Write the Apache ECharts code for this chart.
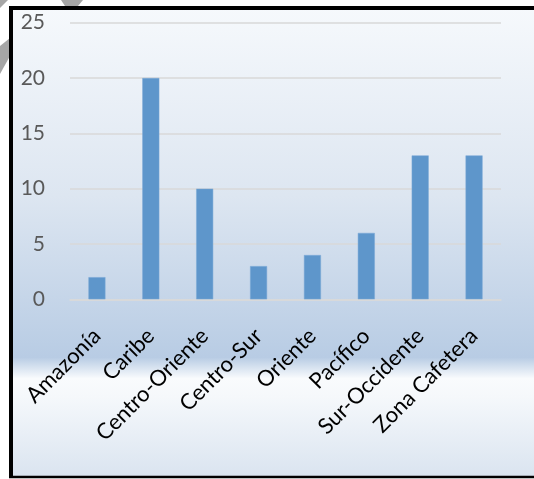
<!DOCTYPE html>
<html>
<head>
<meta charset="utf-8">
<script src="https://cdn.jsdelivr.net/npm/echarts@6/dist/echarts.min.js"></script>
<style>
html,body{margin:0;padding:0;background:#fff;}
#chart{width:534px;height:479px;}
</style>
</head>
<body>
<div id="chart"></div>
<script>
const categories = ['Amazonía','Caribe','Centro-Oriente','Centro-Sur','Oriente','Pacífico','Sur-Occidente','Zona Cafetera'];
const values = [2, 20, 10, 3, 4, 6, 13, 13];
const yTicks = [0, 5, 10, 15, 20, 25];

const chart = echarts.init(document.getElementById('chart'), null, {renderer:'canvas'});
const FONT = 'Lato, "Open Sans", sans-serif';
chart.setOption({
  animation: false,
  backgroundColor: '#ffffff',
  graphic: [
    { type:'polygon', z:-10, shape:{points:[[0,0],[8,0],[0,8]]}, style:{fill:'#a6a6a6'}, silent:true },
    { type:'polygon', z:-10, shape:{points:[[0,46],[10,38],[10,56],[0,74]]}, style:{fill:'#a6a6a6'}, silent:true },
    { type:'polygon', z:-10, shape:{points:[[61,0],[83,0],[78,6],[65,6]]}, style:{fill:'#a6a6a6'}, silent:true },
    { type:'rect', z:-5, shape:{x:11, y:8, width:530, height:469},
      style:{ fill: new echarts.graphic.LinearGradient(0,0,0,1,[
        {offset:0, color:'#f6f9fc'},
        {offset:0.4, color:'#dde6f1'},
        {offset:0.745, color:'#b8cce4'},
        {offset:0.79, color:'#f9fbfd'},
        {offset:0.83, color:'#f5f8fb'},
        {offset:1, color:'#dae4f0'}
      ]) }, silent:true },
    { type:'line', z:100, shape:{x1:11, y1:6, x2:11, y2:478}, style:{stroke:'#000', lineWidth:4}, silent:true },
    { type:'line', z:100, shape:{x1:9, y1:8, x2:534, y2:8}, style:{stroke:'#000', lineWidth:4}, silent:true },
    { type:'line', z:100, shape:{x1:9, y1:477, x2:534, y2:477}, style:{stroke:'#000', lineWidth:2.5}, silent:true }
  ],
  grid: { left:70, right:33, top:22.7, bottom:179.7, outerBoundsMode:'none' },
  xAxis: {
    type:'category', data: categories,
    axisLine:{ show:true, lineStyle:{ color:'#d9d9d9', width:1.5 } },
    axisTick:{ show:false },
    axisLabel:{ interval:0, rotate:45, margin:33, color:'#000', fontSize:22, fontFamily:FONT }
  },
  yAxis: {
    type:'value', min:yTicks[0], max:yTicks[yTicks.length-1], interval:5,
    axisLine:{ show:false }, axisTick:{ show:false },
    splitLine:{ lineStyle:{ color:'#d9d9d9', width:1.5 } },
    axisLabel:{ margin:25, color:'#595959', fontSize:21, fontFamily:FONT,
      formatter: v => yTicks.includes(v) ? String(v) : '' }
  },
  series: [{
    type:'bar', data: values, barWidth:17,
    itemStyle:{ color:'#5e96cb', borderColor:'#7aa9d6', borderWidth:0.5 }
  }]
});
</script>
</body>
</html>
